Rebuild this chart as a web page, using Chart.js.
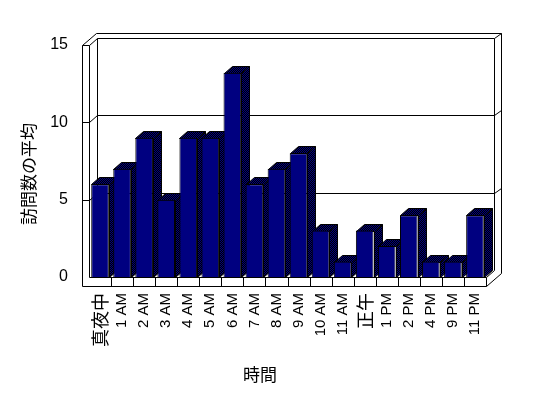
<!DOCTYPE html>
<html>
<head>
<meta charset="utf-8">
<script src="https://cdn.jsdelivr.net/npm/chart.js@4/dist/chart.umd.min.js"></script>
<style>
  html, body { margin: 0; padding: 0; background: #fff; }
  #wrap { width: 548px; height: 398px; }
</style>
</head>
<body>
<div id="wrap"><canvas id="visitChart"></canvas></div>
<script>
// data
const hours = ['真夜中', '1 AM', '2 AM', '3 AM', '4 AM', '5 AM', '6 AM', '7 AM', '8 AM', '9 AM',
               '10 AM', '11 AM', '正午', '1 PM', '2 PM', '4 PM', '9 PM', '11 PM'];
const visitAvg = [6, 7, 9, 5, 9, 9, 13.2, 6, 7, 8, 3, 1, 3, 2, 4, 1, 1, 4];
const yMax = 15;
const yStep = 5;
const xTitle = '時間';
const yTitle = '訪問数の平均';

const NAVY = '#000080';
const DX = 8, DY = -7;          // depth of the 3D box
const LATIN = "'Liberation Sans', Arial, sans-serif";
const CJK = "'Noto Sans CJK JP', sans-serif";

// 2x2 checker used for the shaded faces
function ditherPattern(ctx) {
    const c = document.createElement('canvas');
    c.width = 2; c.height = 2;
    const g = c.getContext('2d');
    g.fillStyle = '#000'; g.fillRect(0, 0, 2, 2);
    g.fillStyle = NAVY; g.fillRect(0, 0, 1, 1); g.fillRect(1, 1, 1, 1);
    return ctx.createPattern(c, 'repeat');
}

function poly(ctx, pts, fill) {
    ctx.beginPath();
    pts.forEach((p, i) => i ? ctx.lineTo(p[0], p[1]) : ctx.moveTo(p[0], p[1]));
    ctx.closePath();
    if (fill) { ctx.fillStyle = fill; ctx.fill(); }
    ctx.stroke();
}

function seg(ctx, pts) {
    ctx.beginPath();
    pts.forEach((p, i) => i ? ctx.lineTo(p[0], p[1]) : ctx.moveTo(p[0], p[1]));
    ctx.stroke();
}

const box3d = {
    id: 'box3d',
    beforeDatasetsDraw(chart) {
        const { ctx, chartArea: a, scales } = chart;
        const L = Math.round(a.left) + 0.5, R = Math.round(a.right) + 0.5;
        const T = Math.round(a.top) + 0.5, B = Math.round(a.bottom) + 0.5;
        ctx.save();
        ctx.strokeStyle = '#000';
        ctx.lineWidth = 1;

        // outline of walls + floor slab
        poly(ctx, [[L - 7, B + 9], [L - 7, T], [L + 7, T - 12], [R + DX + 7, T - 12],
                   [R + DX + 7, B - 4], [R, B + 9]]);
        // left wall
        seg(ctx, [[L - 7, T], [L, T], [L + DX, T + DY]]);
        seg(ctx, [[L, T], [L, B]]);
        // back wall face
        seg(ctx, [[L + DX, B + DY], [L + DX, T + DY], [R + DX, T + DY], [R + DX, B + DY]]);
        seg(ctx, [[R + DX, T + DY], [R + DX + 7, T - 12]]);
        // gridlines
        for (let v = yStep; v < yMax; v += yStep) {
            const yy = Math.round(scales.y.getPixelForValue(v)) + 0.5;
            seg(ctx, [[L - 7, yy], [L, yy], [L + DX, yy + DY], [R + DX, yy + DY], [R + DX + 7, yy + DY - 5]]);
        }
        // floor
        seg(ctx, [[L, B], [R, B], [R + DX, B + DY]]);
        seg(ctx, [[R, B], [R, B + 9]]);
        for (let i = 1; i < hours.length; i++) {
            const xx = Math.round((scales.x.getPixelForTick(i - 1) + scales.x.getPixelForTick(i)) / 2) + 0.5;
            seg(ctx, [[xx, B], [xx, B + 9]]);
        }

        // side and top faces of the bars, fronts are drawn by chart.js afterwards
        const shade = ditherPattern(ctx);
        chart.getDatasetMeta(0).data.forEach(bar => {
            const x0 = Math.round(bar.x - bar.width / 2) + 0.5;
            const x1 = Math.round(bar.x + bar.width / 2) + 0.5;
            const top = Math.round(bar.y) + 0.5;
            const base = Math.round(bar.base) + 0.5;
            poly(ctx, [[x1, top], [x1 + DX, top + DY], [x1 + DX, base + DY], [x1, base]], shade);
            poly(ctx, [[x0, top], [x0 + DX, top + DY], [x1 + DX, top + DY], [x1, top]], shade);
        });
        ctx.restore();
    },
    afterDraw(chart) {
        const { ctx } = chart;
        ctx.save();
        ctx.fillStyle = '#000';
        ctx.font = '17px ' + CJK;
        ctx.textAlign = 'center';
        ctx.textBaseline = 'middle';
        ctx.fillText(xTitle, 260, 375);
        ctx.translate(29, 174);
        ctx.rotate(-Math.PI / 2);
        ctx.fillText(yTitle, 0, 0);
        ctx.restore();
    }
};

new Chart(document.getElementById('visitChart'), {
    type: 'bar',
    data: {
        labels: hours,
        datasets: [{
            data: visitAvg,
            backgroundColor: NAVY,
            borderColor: '#000',
            borderWidth: 1,
            barPercentage: 0.8,
            categoryPercentage: 1.0
        }]
    },
    options: {
        responsive: true,
        maintainAspectRatio: false,
        animation: false,
        layout: { padding: { top: 45, right: 62, bottom: 0, left: 0 } },
        plugins: { legend: { display: false }, tooltip: { enabled: false } },
        scales: {
            x: {
                grid: { display: false, drawTicks: false },
                border: { display: false },
                ticks: {
                    autoSkip: false,
                    maxRotation: 90,
                    minRotation: 90,
                    padding: 16,
                    color: '#000',
                    font: (c) => /^[\x00-\x7f]*$/.test(hours[c.index] || '')
                        ? { family: LATIN, size: 15 }
                        : { family: CJK, size: 18 }
                },
                afterFit: (s) => { s.height = 121; }
            },
            y: {
                min: 0,
                max: yMax,
                grid: { display: false, drawTicks: false },
                border: { display: false },
                ticks: { stepSize: yStep, padding: 21, color: '#000', font: { family: LATIN, size: 16 } },
                afterFit: (s) => { s.width = 89; }
            }
        }
    },
    plugins: [box3d]
});
</script>
</body>
</html>
